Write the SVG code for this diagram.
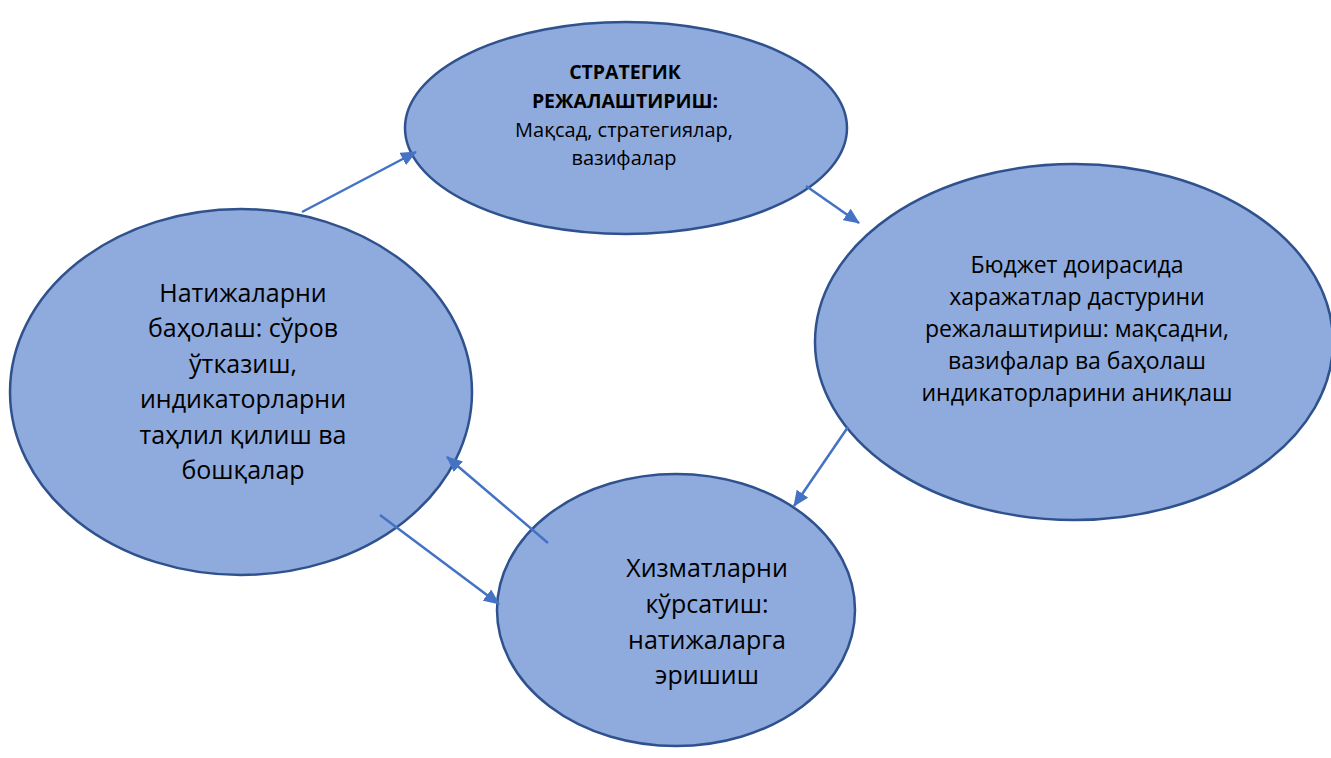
<svg xmlns="http://www.w3.org/2000/svg" width="1331" height="758" viewBox="0 0 1331 758">
<defs>
<style>
.node{fill:#8FAADC;stroke:#2F528F;stroke-width:2.5}
.t{font-family:"Open Sans","Liberation Sans",sans-serif;fill:#000;text-anchor:middle}
.conn{stroke:#4472C4;stroke-width:2.5;fill:none;marker-end:url(#ah)}
</style>
<marker id="ah" viewBox="0 0 16 14" refX="15" refY="7" markerWidth="16" markerHeight="14" markerUnits="userSpaceOnUse" orient="auto">
<path d="M0,0 L16,7 L0,14 z" fill="#4472C4"/>
</marker>
</defs>
<rect width="1331" height="758" fill="#fff"/>
<g id="node-top">
<ellipse class="node" cx="626" cy="128" rx="221" ry="106"/>
<text class="t" font-size="19.5" font-weight="bold" x="625" y="79">СТРАТЕГИК</text>
<text class="t" font-size="19.5" font-weight="bold" x="625" y="108">РЕЖАЛАШТИРИШ:</text>
<text class="t" font-size="20" x="624" y="137">Мақсад, стратегиялар,</text>
<text class="t" font-size="20" x="624" y="165">вазифалар</text>
</g>
<g id="node-right">
<ellipse class="node" cx="1074" cy="342" rx="259" ry="178"/>
<text class="t" font-size="23" x="1077" y="273">Бюджет доирасида</text>
<text class="t" font-size="23" x="1077" y="305">харажатлар дастурини</text>
<text class="t" font-size="23" x="1077" y="337">режалаштириш: мақсадни,</text>
<text class="t" font-size="23" x="1077" y="369">вазифалар ва баҳолаш</text>
<text class="t" font-size="23" x="1077" y="401">индикаторларини аниқлаш</text>
</g>
<g id="node-bottom">
<ellipse class="node" cx="676" cy="610" rx="179" ry="136"/>
<text class="t" font-size="25" x="707" y="577">Хизматларни</text>
<text class="t" font-size="25" x="707" y="613">кўрсатиш:</text>
<text class="t" font-size="25" x="707" y="649">натижаларга</text>
<text class="t" font-size="25" x="707" y="684">эришиш</text>
</g>
<g id="node-left">
<ellipse class="node" cx="241" cy="392" rx="231" ry="183"/>
<text class="t" font-size="25" x="243" y="302">Натижаларни</text>
<text class="t" font-size="25" x="243" y="337">баҳолаш: сўров</text>
<text class="t" font-size="25" x="243" y="373">ўтказиш,</text>
<text class="t" font-size="25" x="243" y="408">индикаторларни</text>
<text class="t" font-size="25" x="243" y="444">таҳлил қилиш ва</text>
<text class="t" font-size="25" x="243" y="479">бошқалар</text>
</g>
<g id="connectors">
<line class="conn" x1="302" y1="212" x2="416" y2="152"/>
<line class="conn" x1="806" y1="186" x2="859" y2="223"/>
<line class="conn" x1="848" y1="427" x2="794" y2="506"/>
<line class="conn" x1="548" y1="543" x2="447" y2="457"/>
<line class="conn" x1="380" y1="515" x2="499" y2="604"/>
</g>
</svg>
